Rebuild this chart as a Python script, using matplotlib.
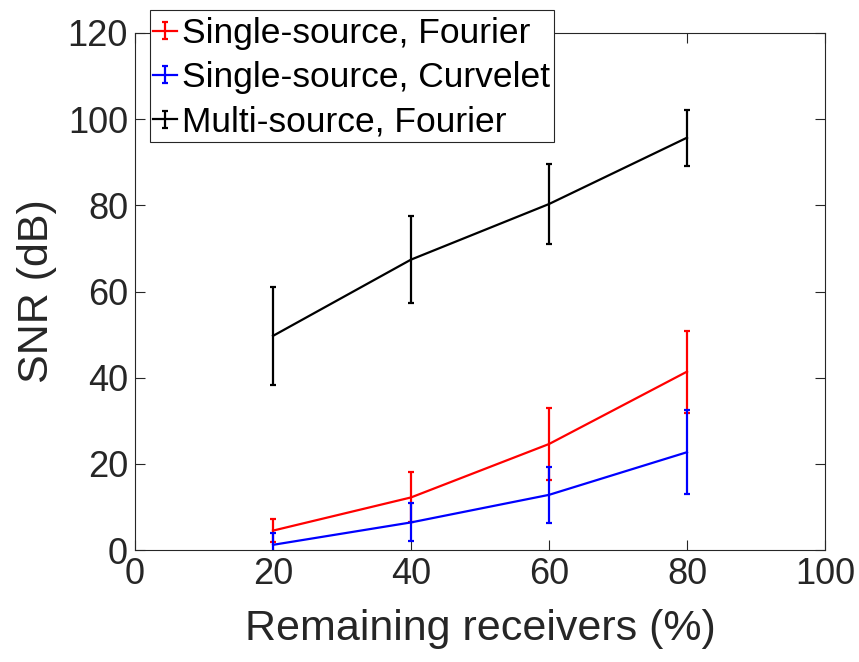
import matplotlib
matplotlib.use("Agg")
import matplotlib.pyplot as plt
from matplotlib.patches import Rectangle
from matplotlib.container import ErrorbarContainer
from matplotlib.legend_handler import HandlerErrorbar

plt.rcParams['font.family'] = ['Liberation Sans', 'DejaVu Sans']

receivers = [20, 40, 60, 80]
ss_fourier = [4.5, 12.2, 24.6, 41.4]
ss_fourier_err = [2.6, 5.8, 8.4, 9.5]
ss_curvelet = [1.2, 6.4, 12.8, 22.7]
ss_curvelet_err = [2.7, 4.4, 6.5, 9.8]
ms_fourier = [49.7, 67.4, 80.3, 95.7]
ms_fourier_err = [11.4, 10.1, 9.3, 6.5]
labels = ['Single-source, Fourier', 'Single-source, Curvelet', 'Multi-source, Fourier']

W, H = 859, 662
fig = plt.figure(figsize=(W/100, H/100), dpi=100)
ax = fig.add_axes([135/W, 1-550/H, (825-135)/W, (550-33)/H])

series = [(ss_fourier, ss_fourier_err, 'red'),
          (ss_curvelet, ss_curvelet_err, 'blue'),
          (ms_fourier, ms_fourier_err, 'black')]
for (vals, errs, c), lab in zip(series, labels):
    ax.errorbar(receivers, vals, yerr=errs, color=c, lw=1.6, capsize=2,
                capthick=1.6, elinewidth=1.6, label=lab)

ax.set_xlim(0, 100)
ax.set_ylim(0, 120)
ax.set_xticks([0, 20, 40, 60, 80, 100])
ax.set_yticks([0, 20, 40, 60, 80, 100, 120])
ax.tick_params(direction='in', top=True, right=True, labelsize=26, length=7,
               width=0.8, color='#262626', labelcolor='#262626', pad=5)
for s in ax.spines.values():
    s.set_linewidth(0.8)
    s.set_color('#262626')
ax.set_xlabel('Remaining receivers (%)', fontsize=31, color='#262626', labelpad=12)
ax.set_ylabel('SNR (dB)', fontsize=31, color='#262626', labelpad=8)

# legend box frame (MATLAB style, taller rows than matplotlib default)
frame = Rectangle((150/W, 1-142/H), (554-150)/W, (142-10)/H,
                  transform=fig.transFigure, facecolor='white',
                  edgecolor='#262626', linewidth=0.8, zorder=4, clip_on=False)
ax.add_patch(frame)
leg = ax.legend(loc='upper left', bbox_to_anchor=(153/W, 1-17/H),
                bbox_transform=fig.transFigure, fontsize=25.5, frameon=False,
                handlelength=0.67, handletextpad=0.14, borderpad=0,
                labelspacing=0.32, borderaxespad=0,
                handler_map={ErrorbarContainer: HandlerErrorbar(xerr_size=0.2, yerr_size=0.24)})
leg.set_zorder(5)

fig.savefig('out.png', dpi=100)
